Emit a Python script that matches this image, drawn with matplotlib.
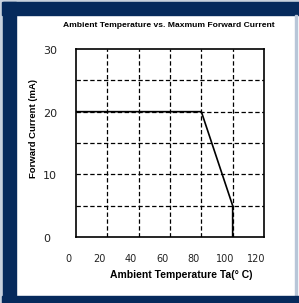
import matplotlib.pyplot as plt
from matplotlib.patches import Rectangle

# dane
temp = [0, 85, 105, 105]
prad = [20, 20, 5, 0]
x_ticks = [0, 20, 40, 60, 80, 100, 120]
y_ticks = [0, 10, 20, 30]
x_grid = [25, 45, 65, 85, 105]
y_grid = [5, 10, 15, 25]

navy = '#062a5c'
W, H = 299, 303

fig = plt.figure(figsize=(W / 100, H / 100), dpi=100)
fig.patch.set_facecolor('white')

# ramka
def px_rect(x0, y0, x1, y1, color):
    fig.patches.append(Rectangle((x0 / W, 1 - y1 / H), (x1 - x0) / W, (y1 - y0) / H,
                                 transform=fig.transFigure, color=color, zorder=0))

px_rect(0, 0, W, 2, '#c9d2de')
px_rect(0, 0, 3, H, '#c9d2de')
px_rect(2, 2, W, 15, navy)
px_rect(3, 2, 16, H, navy)
px_rect(295, 15, 297, 297, '#b8c6d8')
px_rect(2, 296, W, H, navy)

ax = fig.add_axes([76 / W, 1 - 237 / H, 188 / W, 188 / H])
ax.set_xlim(5, 125)
ax.set_ylim(0, 30)

for g in x_grid:
    ax.axvline(g, color='black', lw=0.9, ls=(0, (3.5, 2)), zorder=1)
for g in y_grid + [20]:
    ax.axhline(g, color='black', lw=0.9, ls=(0, (3.5, 2)), zorder=1)

ax.plot(temp, prad, color='black', lw=1.2, zorder=3)

ax.set_xticks([])
ax.set_yticks([])
for s in ax.spines.values():
    s.set_linewidth(1.2)

for v in x_ticks:
    ax.text(v, -0.117, str(v), transform=ax.get_xaxis_transform(), ha='center', va='center',
            fontsize=7, color='#222222', clip_on=False)
for v in y_ticks:
    ax.text(-0.1755, v - 0.3, str(v), transform=ax.get_yaxis_transform(), ha='left', va='center',
            fontsize=8, color='#222222', clip_on=False)

fnt = ['Liberation Sans Narrow', 'Liberation Sans', 'DejaVu Sans']
fig.text(169 / W, 1 - 25.5 / H, 'Ambient Temperature vs. Maxmum Forward Current',
         ha='center', va='center', fontsize=6.1, fontweight='bold', family=fnt)
fig.text(181 / W, 1 - 275 / H, 'Ambient Temperature Ta(° C)',
         ha='center', va='center', fontsize=7.5, fontweight='bold', family=fnt)
fig.text(34 / W, 1 - 128 / H, 'Forward Current (mA)', rotation=90,
         ha='center', va='center', fontsize=6.8, fontweight='bold', family=fnt)

fig.savefig('out.png', dpi=100)
